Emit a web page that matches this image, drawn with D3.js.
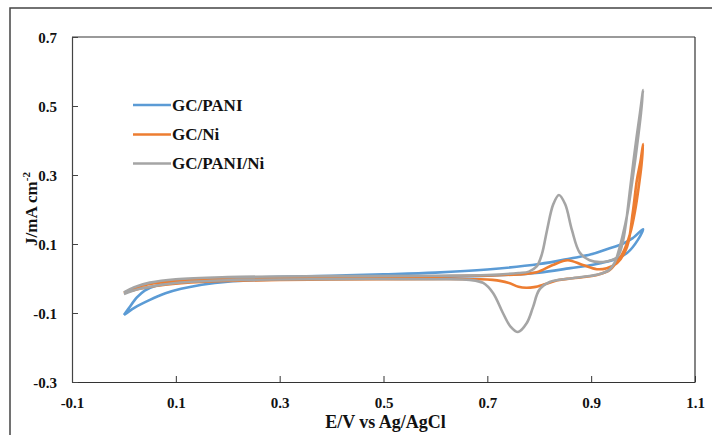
<!DOCTYPE html>
<html><head><meta charset="utf-8">
<script src="https://cdn.jsdelivr.net/npm/d3@7/dist/d3.min.js"></script>
<style>
html,body{margin:0;padding:0;background:#fff;}
svg text{font-family:"Liberation Serif","Times New Roman",serif;font-weight:bold;fill:#111;}
</style></head>
<body>
<svg id="chart" width="712" height="435"></svg>
<script>
// ---- data ----
const seriesNames = ["GC/PANI", "GC/Ni", "GC/PANI/Ni"];
const seriesColors = ["#5B9BD5", "#ED7D31", "#A5A5A5"];
const xTicks = [-0.1, 0.1, 0.3, 0.5, 0.7, 0.9, 1.1];
const yTicks = [-0.3, -0.1, 0.1, 0.3, 0.5, 0.7];

const panE = [0, 0.01, 0.025, 0.04, 0.06, 0.1, 0.15, 0.2, 0.3, 0.4, 0.5, 0.6, 0.7, 0.8, 0.86, 0.9, 0.93, 0.96, 0.98, 1.0,
              0.99, 0.97, 0.95, 0.92, 0.89, 0.86, 0.8, 0.7, 0.5, 0.3, 0.2, 0.15, 0.11, 0.08, 0.05, 0.02, 0];
const panJ = [-0.106, -0.085, -0.055, -0.035, -0.022, -0.01, -0.003, 0.001, 0.005, 0.008, 0.012, 0.017, 0.026, 0.042, 0.058, 0.07, 0.085, 0.1, 0.117, 0.143,
              0.112, 0.075, 0.058, 0.045, 0.036, 0.03, 0.017, 0.008, 0.002, -0.003, -0.009, -0.018, -0.03, -0.043, -0.062, -0.085, -0.106];

const niE = [0, 0.02, 0.05, 0.1, 0.2, 0.4, 0.6, 0.7, 0.76, 0.795, 0.826, 0.855, 0.884, 0.911, 0.93, 0.95, 0.969, 0.98, 0.988, 0.995, 1.0,
             0.997, 0.992, 0.985, 0.975, 0.961, 0.948, 0.936, 0.911, 0.88, 0.86, 0.835, 0.81, 0.79, 0.775, 0.76, 0.74, 0.71, 0.68, 0.5, 0.3, 0.15, 0.08, 0.03, 0];
const niJ = [-0.042, -0.028, -0.016, -0.007, -0.001, 0.003, 0.006, 0.009, 0.012, 0.018, 0.039, 0.053, 0.039, 0.027, 0.03, 0.045, 0.091, 0.19, 0.285, 0.34, 0.39,
             0.33, 0.27, 0.2, 0.13, 0.074, 0.045, 0.025, 0.01, 0.003, 0.0, -0.005, -0.017, -0.025, -0.027, -0.024, -0.012, -0.004, -0.002, -0.002, -0.004, -0.01, -0.018, -0.03, -0.042];

const panNiE = [0, 0.02, 0.05, 0.1, 0.2, 0.4, 0.6, 0.7, 0.76, 0.78, 0.795, 0.805, 0.815, 0.827, 0.838, 0.85, 0.863, 0.878, 0.897, 0.923, 0.95, 0.96, 0.967, 0.975, 0.984, 0.994, 1.0,
                0.996, 0.988, 0.979, 0.97, 0.96, 0.952, 0.945, 0.935, 0.915, 0.9, 0.86, 0.82, 0.8, 0.788, 0.776, 0.759, 0.745, 0.73, 0.711, 0.692, 0.666, 0.6, 0.4, 0.2, 0.1, 0.05, 0.02, 0];
const panNiJ = [-0.04, -0.025, -0.012, -0.002, 0.004, 0.007, 0.008, 0.01, 0.016, 0.02, 0.035, 0.07, 0.14, 0.215, 0.242, 0.215, 0.14, 0.075, 0.053, 0.048, 0.062, 0.1, 0.16, 0.26, 0.37, 0.48, 0.546,
                0.48, 0.38, 0.28, 0.19, 0.12, 0.075, 0.045, 0.025, 0.012, 0.008, 0.0, -0.01, -0.033, -0.083, -0.129, -0.155, -0.14, -0.1, -0.042, -0.013, -0.004, -0.002, -0.002, -0.005, -0.013, -0.024, -0.034, -0.045];

// ---- layout ----
const svg = d3.select("#chart");
const L = 72, R = 695, T = 37, B = 382;
const x = d3.scaleLinear().domain([-0.1, 1.1]).range([L, R]);
const y = d3.scaleLinear().domain([-0.3, 0.7]).range([B, T]);

// outer frame
svg.append("rect").attr("x", 10).attr("y", 8).attr("width", 720).attr("height", 460)
  .attr("fill", "none").attr("stroke", "#444").attr("stroke-width", 1.5);

// plot area borders
svg.append("line").attr("x1", L).attr("x2", R).attr("y1", T).attr("y2", T).attr("stroke", "#9a9a9a").attr("stroke-width", 1.8);
svg.append("line").attr("x1", R).attr("x2", R).attr("y1", T).attr("y2", B).attr("stroke", "#333").attr("stroke-width", 1.2);

// axes
const xAxis = d3.axisBottom(x).tickValues(xTicks).tickSizeInner(-6).tickSizeOuter(0).tickFormat(d3.format(".1f"));
const yAxis = d3.axisLeft(y).tickValues(yTicks).tickSizeInner(-6).tickSizeOuter(0).tickFormat(d3.format(".1f"));

const gx = svg.append("g").attr("transform", `translate(0,${B})`).call(xAxis);
gx.select(".domain").attr("stroke", "#333").attr("stroke-width", 1.2);
gx.selectAll(".tick line").attr("stroke", "#333");
gx.selectAll(".tick text").attr("y", 0).attr("dy", "26px").attr("font-size", "15px")
  .attr("font-family", "Liberation Serif").attr("font-weight", "bold").attr("fill", "#111")
  .text(d => d3.format(".1f")(d).replace("−", "-"));

const gy = svg.append("g").attr("transform", `translate(${L},0)`).call(yAxis);
gy.select(".domain").attr("stroke", "#444").attr("stroke-width", 1.2);
gy.selectAll(".tick line").attr("stroke", "#444");
gy.selectAll(".tick text").attr("x", -15).attr("dy", "0.35em").attr("font-size", "15px")
  .attr("font-family", "Liberation Serif").attr("font-weight", "bold").attr("fill", "#111")
  .text(d => d3.format(".1f")(d).replace("−", "-"));

// axis titles
svg.append("text").attr("x", (L + R) / 2 + 2).attr("y", 428).attr("text-anchor", "middle")
  .attr("font-size", "18px").text("E/V vs Ag/AgCl");

const yt = svg.append("text").attr("transform", "translate(37,209) rotate(-90)").attr("text-anchor", "middle")
  .attr("font-size", "17px");
yt.append("tspan").text("J/mA cm");
yt.append("tspan").attr("dy", "-7").attr("font-size", "11px").text("-2");

// curves
const series = [
  {E: panE, J: panJ},
  {E: niE, J: niJ},
  {E: panNiE, J: panNiJ}
];
const line = d3.line().x(d => x(d[0])).y(d => y(d[1])).curve(d3.curveCatmullRom.alpha(0.5));
series.forEach((s, i) => {
  const pts = s.E.map((e, k) => [e, s.J[k]]);
  svg.append("path").datum(pts).attr("d", line).attr("fill", "none")
    .attr("stroke", seriesColors[i]).attr("stroke-width", 2.6).attr("stroke-linejoin", "round");
});

// legend
const legY = [105, 134.5, 163.5];
seriesNames.forEach((n, i) => {
  svg.append("line").attr("x1", 133).attr("x2", 171).attr("y1", legY[i]).attr("y2", legY[i])
    .attr("stroke", seriesColors[i]).attr("stroke-width", 2.6);
  svg.append("text").attr("x", 172).attr("y", legY[i] + 5.5).attr("font-size", "17px").text(n);
});
</script>
</body></html>
